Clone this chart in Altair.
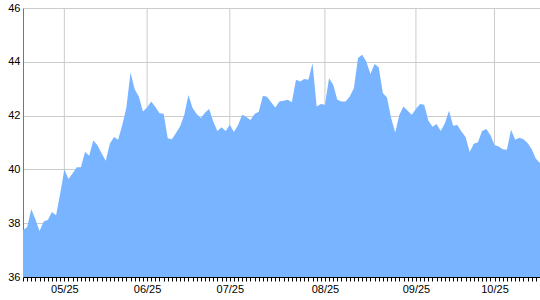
import json
import altair as alt
import pandas as pd

values = [
    37.75, 37.85, 38.52, 38.15, 37.71, 38.06, 38.12, 38.42, 38.30, 39.10,
    40.00, 39.64, 39.86, 40.08, 40.08, 40.66, 40.51, 41.07, 40.90, 40.60,
    40.32, 40.95, 41.20, 41.10, 41.65, 42.30, 43.60, 42.98, 42.71, 42.15,
    42.30, 42.52, 42.32, 42.09, 42.07, 41.16, 41.12, 41.35, 41.60, 42.03,
    42.77, 42.28, 42.06, 41.91, 42.11, 42.25, 41.78, 41.43, 41.57, 41.43,
    41.66, 41.39, 41.65, 42.03, 41.95, 41.84, 42.06, 42.14, 42.74, 42.70,
    42.50, 42.30, 42.52, 42.55, 42.59, 42.50, 43.33, 43.27, 43.36, 43.33,
    43.95, 42.34, 42.43, 42.40, 43.39, 43.15, 42.59, 42.52, 42.52, 42.71,
    43.02, 44.14, 44.26, 44.01, 43.55, 43.92, 43.80, 42.84, 42.67, 41.91,
    41.37, 42.03, 42.34, 42.18, 42.03, 42.25, 42.43, 42.40, 41.82, 41.59,
    41.69, 41.43, 41.72, 42.18, 41.62, 41.65, 41.41, 41.20, 40.65, 40.95,
    41.01, 41.43, 41.50, 41.28, 40.91, 40.85, 40.75, 40.73, 41.47, 41.10,
    41.18, 41.12, 40.98, 40.75, 40.40, 40.24,
]
label_pos = [10, 30, 50, 73, 95, 114]
label_text = ["05/25", "06/25", "07/25", "08/25", "09/25", "10/25"]
y_ticks = [36, 38, 40, 42, 44, 46]

n = len(values)
df = pd.DataFrame({"i": list(range(n)), "v": values})
grid_df = pd.DataFrame({"i": label_pos})

pos_js = json.dumps(label_pos)
txt_js = json.dumps(label_text)
label_expr = (
    f"indexof({pos_js}, datum.value) >= 0 ? "
    f"{txt_js}[indexof({pos_js}, datum.value)] : ''"
)

x_enc = alt.X(
    "i:Q",
    scale=alt.Scale(domain=[0, n - 1], nice=False, zero=False),
    axis=alt.Axis(
        values=list(range(n)),
        grid=False,
        tickSize=4,
        tickColor="#000",
        domainColor="#000",
        labelExpr=label_expr,
        labelOverlap=False,
        labelFlush=False,
        labelPadding=2,
        labelFontSize=11,
        labelColor="#000",
        labelFont="Liberation Sans",
        title=None,
    ),
)
y_enc = alt.Y(
    "v:Q",
    scale=alt.Scale(domain=[36, 46], nice=False, zero=False),
    axis=alt.Axis(
        values=y_ticks,
        tickSize=0,
        labelPadding=3,
        grid=True,
        gridColor="#cccccc",
        domainColor="#777777",
        labelFontSize=11,
        labelColor="#000",
        labelFont="Liberation Sans",
        title=None,
    ),
)

grid = alt.Chart(grid_df).mark_rule(color="#cccccc", strokeWidth=1).encode(x=x_enc)
area = alt.Chart(df).mark_area(color="#78b4ff", opacity=1, interpolate="linear", clip=True).encode(
    x=x_enc, y=y_enc
)

chart = (
    alt.layer(grid, area)
    .properties(
        width=517,
        height=269,
        padding={"left": 23, "top": 8, "right": 0, "bottom": 23},
        autosize=alt.AutoSizeParams(type="none"),
    )
    .configure_view(stroke=None)
)

chart.save("out.html", embed_options={"renderer": "svg", "actions": False})
